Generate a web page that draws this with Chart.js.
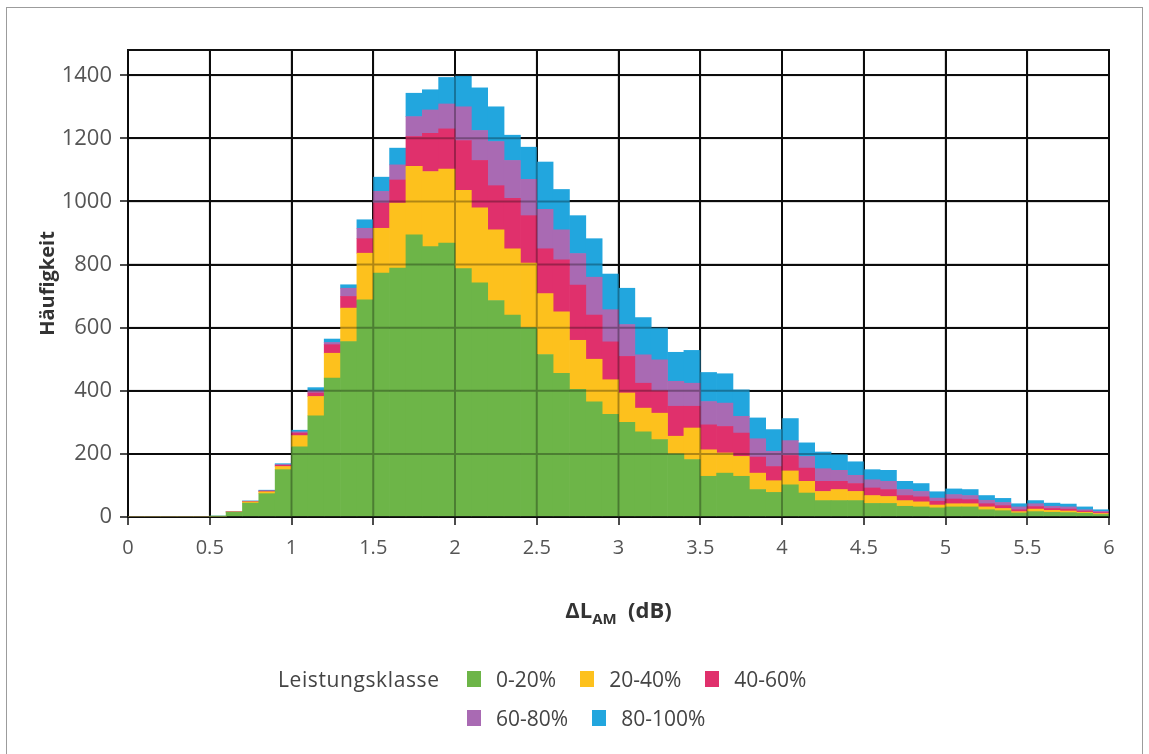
<!DOCTYPE html>
<html>
<head>
<meta charset="utf-8">
<script src="https://cdn.jsdelivr.net/npm/chart.js@4.4.1/dist/chart.umd.min.js"></script>
<style>
  body { margin: 0; background: #fff; }
  #wrap { position: relative; width: 1149px; height: 754px; overflow: hidden; font-family: 'Open Sans', sans-serif; }
  #frame { position: absolute; left: 6px; top: 7px; width: 1135px; height: 800px; border: 1.5px solid #9c9c9c; }
  #chart { position: absolute; left: 0; top: 0; }
  #xtitle { position: absolute; left: 128px; width: 981px; top: 594px; text-align: center;
            font-weight: bold; font-size: 22px; color: #333; }
  #xtitle sub { font-size: 15px; vertical-align: -6px; }
  #legend { position: absolute; left: 278px; top: 663px; display: flex; color: #444; font-size: 21px; }
  #legend .ttl { width: 189px; line-height: 32px; letter-spacing: 0.6px; }
  #legend .items { display: flex; flex-wrap: wrap; width: 400px; }
  #legend .it { display: flex; align-items: center; height: 32px; margin-right: 24px; margin-bottom: 7px; }
  #legend .box { width: 14px; height: 16px; margin-right: 15px; }
</style>
</head>
<body>
<div id="wrap">
  <div id="frame"></div>
  <canvas id="chart" width="1149" height="754"></canvas>
  <div id="xtitle">ΔL<sub>AM</sub>&nbsp; (dB)</div>
  <div id="legend"><div class="ttl">Leistungsklasse</div><div class="items" id="items"></div></div>
</div>
<script>
// bin centres of the 0.1 dB classes
var bins = [0.05, 0.15, 0.25, 0.35, 0.45, 0.55, 0.65, 0.75, 0.85, 0.95,
  1.05, 1.15, 1.25, 1.35, 1.45, 1.55, 1.65, 1.75, 1.85, 1.95,
  2.05, 2.15, 2.25, 2.35, 2.45, 2.55, 2.65, 2.75, 2.85, 2.95,
  3.05, 3.15, 3.25, 3.35, 3.45, 3.55, 3.65, 3.75, 3.85, 3.95,
  4.05, 4.15, 4.25, 4.35, 4.45, 4.55, 4.65, 4.75, 4.85, 4.95,
  5.05, 5.15, 5.25, 5.35, 5.45, 5.55, 5.65, 5.75, 5.85, 5.95];

var seriesNames = ["0-20%", "20-40%", "40-60%", "60-80%", "80-100%"];
var seriesColors = ["#6db548", "#fdc11d", "#e0306c", "#a96ab3", "#22a6de"];

var p0_20 = [0, 0, 0, 0, 0, 2, 15, 44, 74, 150,
  222, 321, 440, 556, 688, 773, 789, 894, 857, 868,
  787, 742, 686, 640, 600, 515, 455, 405, 365, 325,
  300, 270, 245, 200, 182, 129, 139, 129, 87, 78,
  102, 76, 52, 52, 52, 43, 43, 34, 32, 29,
  32, 32, 23, 20, 13, 17, 15, 14, 12, 8];
var p20_40 = [0, 0, 0, 0, 0, 0, 1, 4, 6, 10,
  36, 61, 79, 106, 148, 142, 206, 217, 238, 235,
  248, 238, 224, 210, 205, 193, 195, 155, 135, 110,
  93, 75, 84, 56, 100, 84, 64, 63, 52, 37,
  44, 37, 29, 35, 29, 25, 22, 18, 16, 9,
  10, 10, 9, 7, 4, 8, 6, 5, 3, 3];
var p40_60 = [0, 0, 0, 0, 0, 0, 0, 1, 2, 4,
  8, 11, 27, 37, 46, 80, 73, 95, 121, 127,
  158, 150, 140, 160, 150, 142, 165, 175, 140, 120,
  116, 79, 71, 95, 69, 79, 84, 74, 51, 45,
  49, 42, 32, 26, 25, 24, 22, 16, 16, 12,
  15, 13, 10, 9, 6, 8, 6, 6, 4, 3];
var p60_80 = [0, 0, 0, 0, 0, 0, 1, 1, 1, 2,
  4, 7, 7, 26, 33, 37, 48, 63, 74, 79,
  107, 95, 140, 120, 115, 125, 95, 100, 120, 102,
  101, 90, 98, 79, 73, 74, 74, 53, 58, 48,
  47, 37, 40, 35, 26, 26, 26, 19, 17, 10,
  14, 13, 11, 10, 9, 9, 7, 7, 4, 4];
var p80_100 = [0, 0, 0, 0, 0, 1, 0, 1, 2, 3,
  5, 10, 11, 11, 27, 45, 53, 74, 64, 84,
  97, 135, 110, 80, 102, 150, 128, 120, 122, 113,
  115, 118, 101, 92, 104, 92, 93, 84, 66, 69,
  70, 43, 53, 50, 43, 32, 35, 26, 25, 20,
  18, 19, 15, 13, 10, 10, 10, 9, 9, 5];

var seriesData = [p0_20, p20_40, p40_60, p60_80, p80_100];

// grid lines show faintly through the bars
var overGrid = {
  id: "overGrid",
  afterDatasetsDraw: function (chart) {
    var ctx = chart.ctx, a = chart.chartArea, x = chart.scales.x, y = chart.scales.y;
    ctx.save();
    ctx.strokeStyle = "rgba(0,0,0,0.3)";
    ctx.lineWidth = 2;
    ctx.beginPath();
    x.ticks.forEach(function (t) {
      var px = x.getPixelForValue(t.value);
      ctx.moveTo(px, a.top); ctx.lineTo(px, a.bottom);
    });
    y.ticks.forEach(function (t) {
      var py = y.getPixelForValue(t.value);
      ctx.moveTo(a.left, py); ctx.lineTo(a.right, py);
    });
    ctx.stroke();
    ctx.strokeStyle = "#111";
    ctx.beginPath();
    ctx.moveTo(a.left - 1, a.top); ctx.lineTo(a.right + 1, a.top);
    ctx.stroke();
    ctx.restore();
  }
};

Chart.defaults.font.family = "'Open Sans', sans-serif";

var ctx = document.getElementById("chart");

new Chart(ctx, {
  type: "bar",
  data: {
    labels: bins,
    datasets: seriesNames.map(function (name, i) {
      return {
        label: name,
        data: seriesData[i],
        backgroundColor: seriesColors[i],
        borderWidth: 0,
        barPercentage: 1,
        categoryPercentage: 1
      };
    })
  },
  options: {
    responsive: false,
    animation: false,
    layout: { padding: { left: 36, right: 40, top: 50, bottom: 197 } },
    plugins: {
      legend: { display: false },
      tooltip: { enabled: false }
    },
    scales: {
      x: {
        type: "linear",
        stacked: true,
        offset: false,
        min: 0,
        max: 6,
        afterFit: function (scale) { scale.height = 40; },
        grid: { offset: false, color: "#111", lineWidth: 2, tickLength: 8, tickColor: "#111", tickWidth: 1.5 },
        border: { color: "#111", width: 2 },
        ticks: {
          stepSize: 0.5,
          padding: 11,
          color: "#555",
          font: { size: 20 },
          callback: function (v) { return String(Math.round(v * 10) / 10); }
        }
      },
      y: {
        stacked: true,
        min: 0,
        max: 1480,
        afterFit: function (scale) { scale.width = 92; },
        afterBuildTicks: function (scale) {
          scale.ticks = scale.ticks.filter(function (t) { return t.value % 200 === 0; });
        },
        grid: { color: "#111", lineWidth: 2, tickLength: 8, tickColor: "#111", tickWidth: 1.5 },
        border: { color: "#111", width: 2 },
        title: {
          display: true,
          text: "Häufigkeit",
          color: "#333",
          font: { size: 20, weight: "bold" },
          padding: { top: 0, bottom: 0 }
        },
        ticks: {
          stepSize: 200,
          padding: 8,
          color: "#555",
          font: { size: 22 },
          callback: function (v) { return String(v); }
        }
      }
    }
  },
  plugins: [overGrid]
});

// legend
var items = document.getElementById("items");
seriesNames.forEach(function (name, i) {
  var it = document.createElement("div");
  it.className = "it";
  var b = document.createElement("span");
  b.className = "box";
  b.style.background = seriesColors[i];
  it.appendChild(b);
  it.appendChild(document.createTextNode(name));
  items.appendChild(it);
});
</script>
</body>
</html>
